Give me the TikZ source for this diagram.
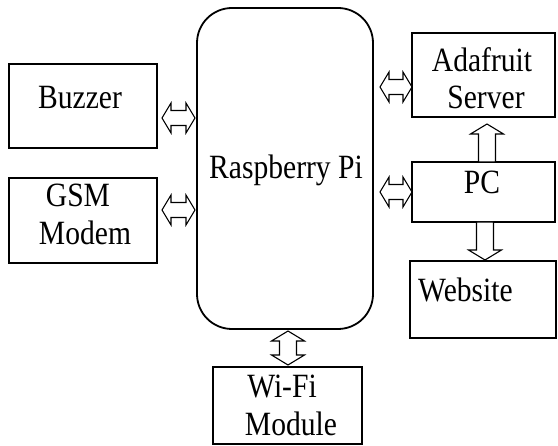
\documentclass[tikz,border=0pt]{standalone}
\usepackage{fontspec}
\setmainfont{Liberation Serif}
\usetikzlibrary{calc}
\newcommand\sx[1]{\scalebox{0.87}[1]{#1}}
\tikzset{
  box/.style={draw, line width=2.6pt, inner sep=0pt, outer sep=0pt},
  rpibox/.style={draw, line width=1.8pt, rounded corners=35pt, inner sep=0pt, outer sep=0pt},
  lbl/.style={anchor=base, inner sep=0pt, font=\fontsize{34}{40}\selectfont},
  arr/.style={draw, line width=1.1pt, fill=white, line join=miter},
}
% horizontal double arrow: #1 left point, #2 right point, #3 y (pixel)
\newcommand\harr[3]{%
  \path[arr] let \p1=(#1), \p2=(#2), \p3=(0,#3) in
   (\x1,\y3) -- (\x1+9pt,\y3+15pt) -- (\x1+9pt,\y3+7.5pt) -- (\x2-9pt,\y3+7.5pt)
   -- (\x2-9pt,\y3+15pt) -- (\x2,\y3) -- (\x2-9pt,\y3-15pt) -- (\x2-9pt,\y3-7.5pt)
   -- (\x1+9pt,\y3-7.5pt) -- (\x1+9pt,\y3-15pt) -- cycle;}
% vertical double arrow: #1 top point, #2 bottom point
\newcommand\vdarr[2]{%
  \path[arr] let \p1=(#1), \p2=(#2) in
   (\x1,\y1) -- (\x1+16.5pt,\y1-10pt) -- (\x1+8.5pt,\y1-10pt) -- (\x1+8.5pt,\y2+10pt)
   -- (\x1+16.5pt,\y2+10pt) -- (\x1,\y2) -- (\x1-16.5pt,\y2+10pt) -- (\x1-8.5pt,\y2+10pt)
   -- (\x1-8.5pt,\y1-10pt) -- (\x1-16.5pt,\y1-10pt) -- cycle;}
% up arrow: #1 tip (top), #2 base (bottom)
\newcommand\uparr[2]{%
  \path[arr] let \p1=(#1), \p2=(#2) in
   (\x1,\y1) -- (\x1+16.5pt,\y1-10pt) -- (\x1+8.5pt,\y1-10pt) -- (\x1+8.5pt,\y2)
   -- (\x1-8.5pt,\y2) -- (\x1-8.5pt,\y1-10pt) -- (\x1-16.5pt,\y1-10pt) -- cycle;}
% down arrow: #1 base (top), #2 tip (bottom)
\newcommand\downarr[2]{%
  \path[arr] let \p1=(#1), \p2=(#2) in
   (\x1,\y2) -- (\x1+16.5pt,\y2+10pt) -- (\x1+8.5pt,\y2+10pt) -- (\x1+8.5pt,\y1)
   -- (\x1-8.5pt,\y1) -- (\x1-8.5pt,\y2+10pt) -- (\x1-16.5pt,\y2+10pt) -- cycle;}
\begin{document}
\begin{tikzpicture}[x=1pt,y=-1pt]
\useasboundingbox (0,0) rectangle (558,446);
% boxes
\node[box, minimum width=148pt, minimum height=84pt] (buzzer) at (83,106) {};
\node[box, minimum width=148pt, minimum height=85pt] (gsm) at (83,220.5) {};
\node[rpibox, minimum width=176pt, minimum height=321pt] (rpi) at (285,168.5) {};
\node[box, minimum width=143pt, minimum height=84pt] (ada) at (483.5,75) {};
\node[box, minimum width=143pt, minimum height=60pt] (pc) at (483.5,192) {};
\node[box, minimum width=146pt, minimum height=77pt] (web) at (483,299.5) {};
\node[box, minimum width=149pt, minimum height=77pt] (wifi) at (287.5,405.5) {};
% labels
\node[lbl] (tbuzzer) at (80,109) {\sx{Buzzer}};
\node[lbl] (tgsm) at (78,207) {\sx{GSM}};
\node[lbl] (tmodem) at (85,245) {\sx{Modem}};
\node[lbl] (trpi) at (286,179) {\sx{Raspberry Pi}};
\node[lbl] (tada) at (482,72) {\sx{Adafruit}};
\node[lbl] (tserver) at (486,109) {\sx{Server}};
\node[lbl] (tpc) at (482,194) {\sx{PC}};
\node[lbl, anchor=base west] (tweb) at (418,302) {\sx{Website}};
\node[lbl] (twifi) at (282,398) {\sx{Wi-Fi}};
\node[lbl] (tmodule) at (291,436) {\sx{Module}};
% arrows
\harr{$(buzzer.east)+(5,0)$}{$(rpi.west)+(-2,0)$}{118}
\harr{$(gsm.east)+(5,0)$}{$(rpi.west)+(-2,0)$}{210}
\harr{$(rpi.east)+(7,0)$}{$(ada.west)$}{87}
\harr{$(rpi.east)+(7,0)$}{$(pc.west)$}{192}
\uparr{$(ada.south)+(3.5,7)$}{$(pc.north)+(3.5,0)$}
\downarr{$(pc.south)+(1.5,0)$}{$(web.north)+(1.5,-1)$}
\vdarr{$(rpi.south)+(3,2)$}{$(wifi.north)+(0.5,-2)$}
\end{tikzpicture}
\end{document}
